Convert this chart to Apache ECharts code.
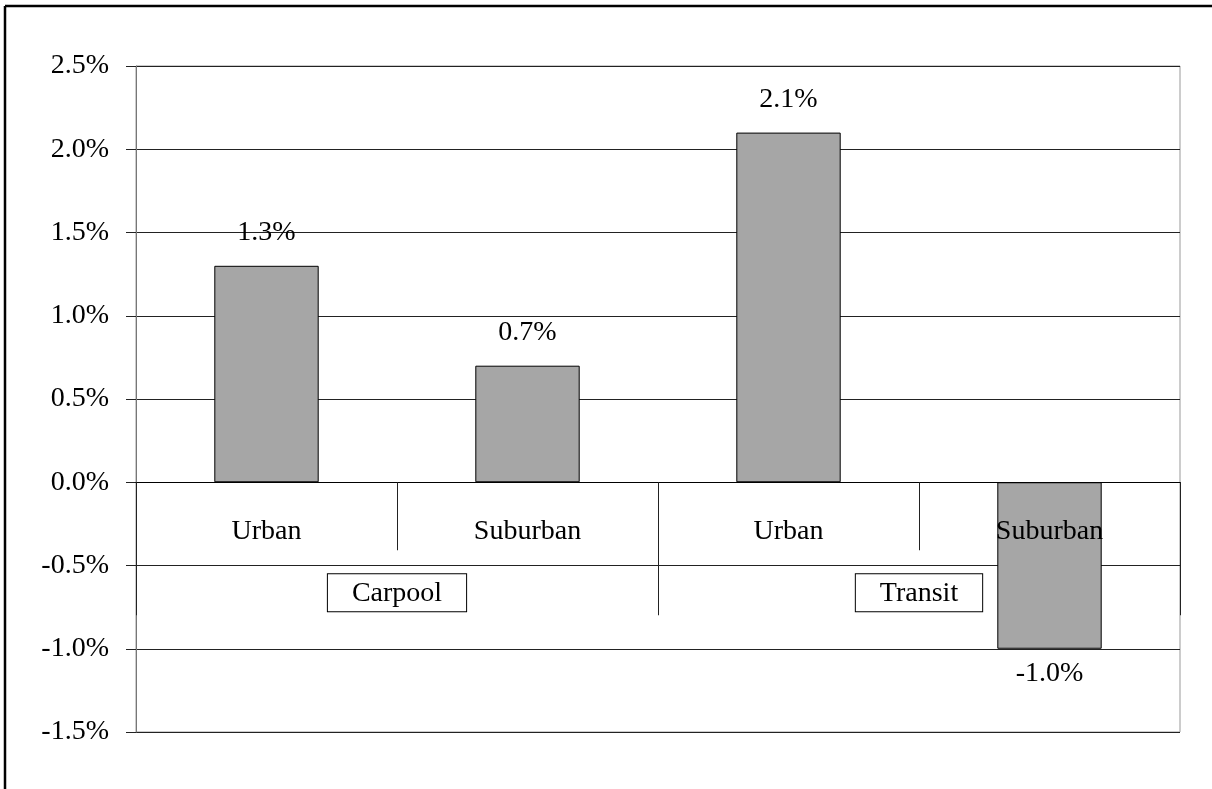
<!DOCTYPE html>
<html>
<head>
<meta charset="utf-8">
<script src="https://cdn.jsdelivr.net/npm/echarts@6/dist/echarts.min.js"></script>
<style>
  html, body { margin: 0; padding: 0; background: #fff; }
  #chart { width: 1212px; height: 789px; }
</style>
</head>
<body>
<div id="chart"></div>
<script>
// данные графика
const areas = ['Urban', 'Suburban', 'Urban', 'Suburban'] // нижний уровень оси
const modes = ['Carpool', 'Transit']                     // группы
const changes = [1.3, 0.7, 2.1, -1.0]                    // значения, %
const yTicks = { min: -1.5, max: 2.5, step: 0.5 }

const font = 'Liberation Serif, Times New Roman, serif'
const fs = 28

const chart = echarts.init(document.getElementById('chart'))

// сетка: 66..732 по y, ноль на 481 -> смещаем оси x вверх
const gridTop = 66, gridBottom = 57
const plotH = 789 - gridTop - gridBottom
const zeroOffset = -plotH * (0 - yTicks.min) / (yTicks.max - yTicks.min)

const barData = changes.map(v => ({
    value: v,
    label: v < 0 ? { position: 'bottom', distance: 11 } : { position: 'top', distance: 19 }
}))

const options = {
    animation: false,
    backgroundColor: '#fff',
    grid: {
        left: 136,
        right: 32,
        top: gridTop,
        bottom: gridBottom,
        containLabel: false,
        outerBoundsMode: 'none',
        show: true,
        borderColor: '#999',
        borderWidth: 1,
        backgroundColor: 'transparent'
    },
    // рамка вокруг (видны только верх и лево)
    graphic: [
        { type: 'line', shape: { x1: 5, y1: 6, x2: 1212, y2: 6 }, style: { stroke: '#000', lineWidth: 2.5 } },
        { type: 'line', shape: { x1: 5, y1: 6, x2: 5, y2: 789 }, style: { stroke: '#000', lineWidth: 2.5 } }
    ],
    xAxis: [
        {
            type: 'category',
            data: areas,
            position: 'bottom',
            offset: zeroOffset,
            z: 5, // подписи поверх столбцов
            axisLine: { onZero: false, lineStyle: { color: '#000', width: 1 } },
            axisTick: { show: true, length: 68, lineStyle: { color: '#222' } },
            axisLabel: { margin: 35, fontFamily: font, fontSize: fs, color: '#000' },
            splitLine: { show: false }
        },
        {
            type: 'category',
            data: modes,
            position: 'bottom',
            offset: zeroOffset,
            axisLine: { onZero: false, lineStyle: { color: '#000', width: 1 } },
            axisTick: { show: true, length: 133, lineStyle: { color: '#222' } },
            axisLabel: {
                margin: 92,
                fontFamily: font,
                fontSize: fs,
                color: '#000',
                borderColor: '#000',
                borderWidth: 1,
                padding: [5, 24, 4, 24],
                backgroundColor: '#fff'
            },
            splitLine: { show: false }
        }
    ],
    yAxis: {
        type: 'value',
        min: yTicks.min,
        max: yTicks.max,
        interval: yTicks.step,
        axisLine: { show: true, lineStyle: { color: '#777' } },
        axisTick: { show: true, length: 10, lineStyle: { color: '#222' } },
        axisLabel: {
            margin: 27,
            fontFamily: font,
            fontSize: fs,
            color: '#000',
            formatter: v => v.toFixed(1) + '%'
        },
        splitLine: { show: true, lineStyle: { color: '#222', width: 1 } }
    },
    series: [
        {
            type: 'bar',
            xAxisIndex: 0,
            data: barData,
            barWidth: '40%',
            itemStyle: { color: '#a6a6a6', borderColor: '#000', borderWidth: 1 },
            label: {
                show: true,
                fontFamily: font,
                fontSize: fs,
                color: '#000',
                formatter: p => p.value.toFixed(1) + '%'
            }
        }
    ]
}

chart.setOption(options)
</script>
</body>
</html>
